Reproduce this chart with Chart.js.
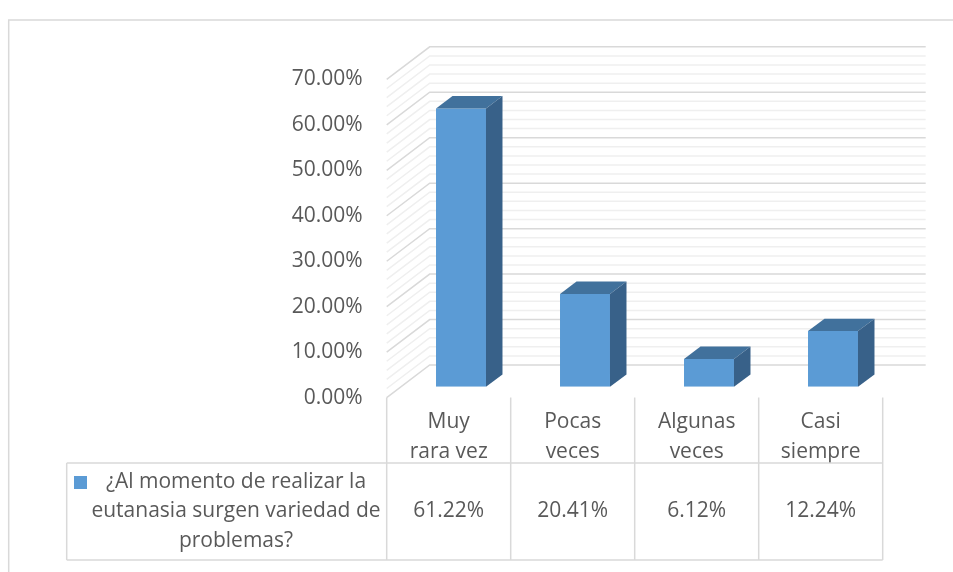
<!DOCTYPE html>
<html>
<head>
<meta charset="utf-8">
<script src="https://cdn.jsdelivr.net/npm/chart.js@4"></script>
<style>
	body { margin: 0; background: #fff; }
	canvas { display: block; }
</style>
</head>
<body>
<canvas id="chart" width="953" height="572"></canvas>
<script>
// data
const categories = [['Muy', 'rara vez'], ['Pocas', 'veces'], ['Algunas', 'veces'], ['Casi', 'siempre']];
const values = [0.6122, 0.2041, 0.0612, 0.1224];
const seriesName = ['¿Al momento de realizar la', 'eutanasia surgen variedad de', 'problemas?'];
const yTicks = [0, 0.1, 0.2, 0.3, 0.4, 0.5, 0.6, 0.7];

const FONT = '"Open Sans", "DejaVu Sans", sans-serif';
const FONT_SIZE = 21;
const TEXT = '#595959';
const LINE = '#D9D9D9';
const MINOR = '#EFEFEF';

// fake 3d: back wall offset and where the bars sit in depth
const WALL = { dx: 43, dy: -32.6 };
const BAR_SHIFT = { dx: 12.3, dy: -10.9 };
const BAR_DEPTH = { dx: 16.5, dy: -12.3 };

const TABLE_ROW = 463;
const TABLE_BOTTOM = 560;
const LEGEND_LEFT = 66.7;

const pct = (v) => (v * 100).toFixed(2) + '%';

const threeD = {
	id: 'threeD',
	beforeDatasetsDraw(chart) {
		const { ctx, chartArea: area, scales } = chart;
		const y = scales.y;
		ctx.save();
		ctx.lineWidth = 1.5;
		// minor first, then major on top
		for (const pass of ['minor', 'major']) {
			for (let i = 0; i <= 35; i++) {
				const major = i % 5 === 0;
				if ((pass === 'major') !== major) continue;
				const py = y.getPixelForValue(i * 0.02);
				ctx.strokeStyle = major ? LINE : MINOR;
				ctx.beginPath();
				ctx.moveTo(area.left, py);
				ctx.lineTo(area.left + WALL.dx, py + WALL.dy);
				ctx.lineTo(area.right + WALL.dx, py + WALL.dy);
				ctx.stroke();
			}
		}
		ctx.restore();
		ctx.save();
		ctx.translate(BAR_SHIFT.dx, BAR_SHIFT.dy);
	},
	afterDatasetsDraw(chart) {
		const { ctx } = chart;
		chart.getDatasetMeta(0).data.forEach((bar) => {
			const { x, y, base, width } = bar.getProps(['x', 'y', 'base', 'width'], true);
			const l = x - width / 2;
			const r = x + width / 2;
			// top face
			ctx.fillStyle = '#41719C';
			ctx.beginPath();
			ctx.moveTo(l, y);
			ctx.lineTo(l + BAR_DEPTH.dx, y + BAR_DEPTH.dy);
			ctx.lineTo(r + BAR_DEPTH.dx, y + BAR_DEPTH.dy);
			ctx.lineTo(r, y);
			ctx.closePath();
			ctx.fill();
			// side face
			ctx.fillStyle = '#386189';
			ctx.beginPath();
			ctx.moveTo(r, y);
			ctx.lineTo(r + BAR_DEPTH.dx, y + BAR_DEPTH.dy);
			ctx.lineTo(r + BAR_DEPTH.dx, base + BAR_DEPTH.dy);
			ctx.lineTo(r, base);
			ctx.closePath();
			ctx.fill();
		});
		ctx.restore();
	},
	afterDraw(chart) {
		const { ctx, chartArea: area, scales } = chart;
		const x = scales.x;
		const step = x.width / categories.length;
		ctx.save();

		// chart frame
		ctx.strokeStyle = LINE;
		ctx.lineWidth = 1.5;
		ctx.beginPath();
		ctx.moveTo(8.7, 572);
		ctx.lineTo(8.7, 20);
		ctx.lineTo(953, 20);
		ctx.stroke();

		// data table grid
		ctx.beginPath();
		for (let i = 0; i <= categories.length; i++) {
			const px = area.left + i * step;
			ctx.moveTo(px, area.bottom);
			ctx.lineTo(px, TABLE_BOTTOM);
		}
		ctx.moveTo(LEGEND_LEFT, TABLE_ROW);
		ctx.lineTo(area.right, TABLE_ROW);
		ctx.moveTo(LEGEND_LEFT, TABLE_BOTTOM);
		ctx.lineTo(area.right, TABLE_BOTTOM);
		ctx.moveTo(LEGEND_LEFT, TABLE_ROW);
		ctx.lineTo(LEGEND_LEFT, TABLE_BOTTOM);
		ctx.stroke();

		// legend key + series name
		ctx.fillStyle = '#5B9BD5';
		ctx.fillRect(74, 476, 13, 13);
		ctx.fillStyle = TEXT;
		ctx.font = FONT_SIZE + 'px ' + FONT;
		ctx.textAlign = 'center';
		ctx.textBaseline = 'middle';
		seriesName.forEach((line, i) => ctx.fillText(line, 236, 482 + i * 29.5));

		// values row
		const mid = (TABLE_ROW + TABLE_BOTTOM) / 2;
		values.forEach((v, i) => ctx.fillText(pct(v), x.getPixelForValue(i), mid));
		ctx.restore();
	},
};

new Chart(document.getElementById('chart'), {
	type: 'bar',
	data: {
		labels: categories,
		datasets: [{
			label: seriesName.join(' '),
			data: values,
			backgroundColor: '#5B9BD5',
			borderWidth: 0,
			barPercentage: 1,
			categoryPercentage: 0.403,
		}],
	},
	options: {
		responsive: false,
		animation: false,
		layout: { padding: { top: 79.4, right: 70.3, bottom: 0, left: 0 } },
		plugins: { legend: { display: false }, tooltip: { enabled: false } },
		scales: {
			x: {
				grid: { display: false, drawTicks: false },
				border: { display: false },
				ticks: { color: TEXT, font: { family: FONT, size: FONT_SIZE, lineHeight: 1.43 }, padding: 9, maxRotation: 0 },
				afterFit: (scale) => { scale.height = 174.4; },
			},
			y: {
				min: 0,
				max: 0.7,
				grid: { display: false, drawTicks: false },
				border: { display: false },
				afterBuildTicks: (scale) => { scale.ticks = yTicks.map((v) => ({ value: v })); },
				ticks: { color: TEXT, font: { family: FONT, size: FONT_SIZE }, padding: 24, callback: (v) => pct(v) },
				afterFit: (scale) => { scale.width = 386.7; },
			},
		},
	},
	plugins: [threeD],
});
</script>
</body>
</html>
